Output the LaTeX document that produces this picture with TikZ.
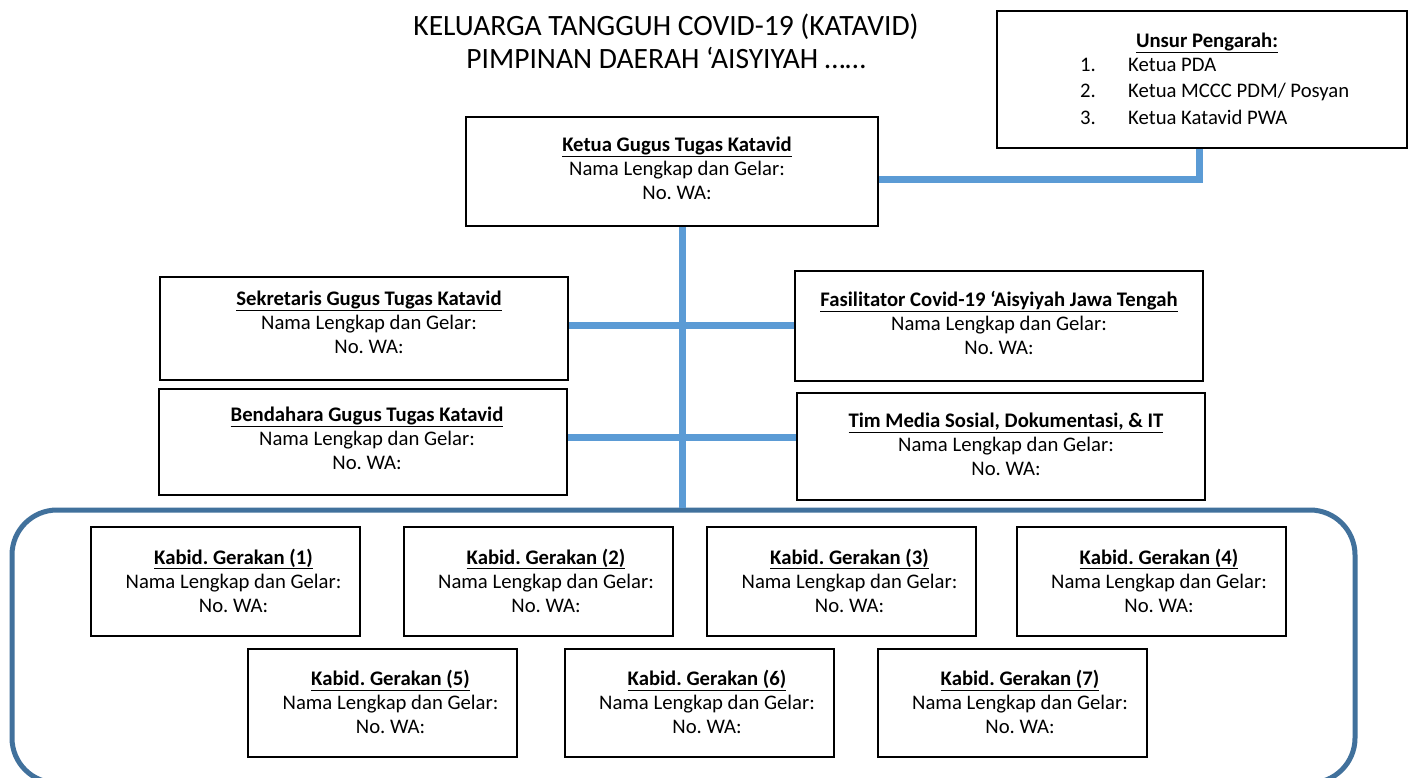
\documentclass[tikz,border=0pt]{standalone}
\usepackage{fontspec}
\setmainfont{Carlito}
\definecolor{conn}{RGB}{91,155,213}
\definecolor{frame}{RGB}{65,113,156}
\newcommand\infotext[1]{\textbf{\underline{#1}}\\Nama Lengkap dan Gelar:\\No. WA:}
\begin{document}
\frenchspacing
\begin{tikzpicture}[x=1pt,y=-1pt,
  txt/.style={font=\fontsize{20.7}{24}\selectfont, align=center, inner sep=0pt},
  box/.style={draw=black, line width=2pt, fill=white, inner sep=0pt},
  bigbox/.style={box, minimum width=408pt},
  kbox/.style={box, minimum width=269pt, minimum height=109pt},
  link/.style={draw=conn, line width=7pt}]
\useasboundingbox (0,0) rectangle (1415,778);
\fill[white] (0,0) rectangle (1415,778);
% title
\node[font=\fontsize{29.5}{33}\selectfont, align=center] (title) at (666,41.5)
  {KELUARGA TANGGUH COVID-19 (KATAVID)\\PIMPINAN DAERAH ‘AISYIYAH ……};
% frame
\draw[frame, line width=5pt, rounded corners=45pt] (12,510) rectangle (1355,783);
% coordinates
\coordinate (vbot) at (682,508);
\coordinate (corner) at (1199,180);
\coordinate (h1) at (682,325);
\coordinate (h2) at (682,437);
% boxes
\node[box, minimum width=410pt, minimum height=137pt] (unsur) at (1202,80) {};
\node[box, minimum width=412pt, minimum height=109pt] (ketua) at (672,171.5) {};
\node[bigbox, minimum height=103pt] (sek) at (364,328.5) {};
\node[bigbox, minimum height=106pt] (ben) at (363,442) {};
\node[bigbox, minimum height=110pt] (fas) at (999,326) {};
\node[bigbox, minimum height=107pt] (tim) at (1001,446.5) {};
\node[kbox] (k1) at (225.5,581.5) {};
\node[kbox] (k2) at (538,581.5) {};
\node[kbox] (k3) at (841.5,581.5) {};
\node[kbox] (k4) at (1151,581.5) {};
\node[kbox, minimum height=108pt] (k5) at (382.5,703) {};
\node[kbox, minimum height=108pt] (k6) at (699,703) {};
\node[kbox, minimum height=108pt] (k7) at (1012,703) {};
% texts
\node[txt] (unsurtitle) at (1207,43) {\textbf{\underline{Unsur Pengarah:}}};
\node[txt, anchor=west] (unsurlist) at (1080,93)
  {\begin{tabular}{@{}p{48pt}@{}l@{}}1. & Ketua PDA\\[2.5pt] 2. & Ketua MCCC PDM/ Posyan\\[2.5pt] 3. & Ketua Katavid PWA\end{tabular}};
\node[txt] (ketuat) at ([shift={(5,-3)}]ketua.center) {\infotext{Ketua Gugus Tugas Katavid}};
\node[txt] (sekt) at ([shift={(5,-6)}]sek.center) {\infotext{Sekretaris Gugus Tugas Katavid}};
\node[txt] (bent) at ([shift={(4,-4)}]ben.center) {\infotext{Bendahara Gugus Tugas Katavid}};
\node[txt] (fast) at ([shift={(0,-3.5)}]fas.center) {\infotext{Fasilitator Covid-19 ‘Aisyiyah Jawa Tengah}};
\node[txt] (timt) at ([shift={(5,-2)}]tim.center) {\infotext{Tim Media Sosial, Dokumentasi, \& IT}};
\node[txt] (k1t) at ([shift={(8,-1)}]k1.center) {\infotext{Kabid. Gerakan (1)}};
\node[txt] (k2t) at ([shift={(8,-1)}]k2.center) {\infotext{Kabid. Gerakan (2)}};
\node[txt] (k3t) at ([shift={(8,-1)}]k3.center) {\infotext{Kabid. Gerakan (3)}};
\node[txt] (k4t) at ([shift={(8,-1)}]k4.center) {\infotext{Kabid. Gerakan (4)}};
\node[txt] (k5t) at ([shift={(8,-1)}]k5.center) {\infotext{Kabid. Gerakan (5)}};
\node[txt] (k6t) at ([shift={(8,-1)}]k6.center) {\infotext{Kabid. Gerakan (6)}};
\node[txt] (k7t) at ([shift={(8,-1)}]k7.center) {\infotext{Kabid. Gerakan (7)}};
% connectors
\path[link] (ketua.south -| vbot) -- (vbot);
\path[link] (sek.east |- h1) -- (fas.west |- h1);
\path[link] (ben.east |- h2) -- (tim.west |- h2);
\path[link, line join=miter] (ketua.east |- corner) -- (corner) -- (unsur.south -| corner);
\end{tikzpicture}
\end{document}
